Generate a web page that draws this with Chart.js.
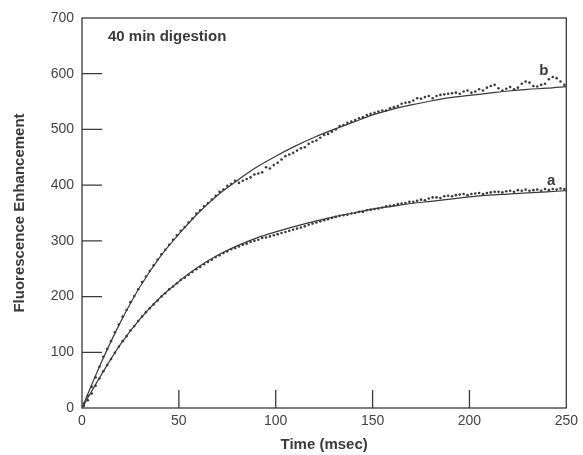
<!DOCTYPE html>
<html>
<head>
<meta charset="utf-8">
<script src="https://cdn.jsdelivr.net/npm/chart.js@4"></script>
<style>
  html, body { margin: 0; padding: 0; background: #fff; }
  #wrap { width: 583px; height: 455px; }
</style>
</head>
<body>
<div id="wrap"><canvas id="chart" width="583" height="455"></canvas></div>
<script>
// time (msec) of the measured points, every 2 ms
const dotTimes = [];
for (let t = 1; t < 250; t += 2) dotTimes.push(t);

const dotsB = [8, 22, 38, 55, 74, 92, 106, 120, 136, 150, 164, 176, 190, 201, 213, 226, 236, 246, 256, 266,
    276, 284, 293, 302, 310, 318, 325, 333, 340, 349, 355, 362, 368, 374, 381, 388, 392, 399, 402, 408,
    404, 408, 411, 414, 419, 421, 423, 432, 430, 436, 440, 446, 452, 455, 458, 462, 466, 468, 474, 478,
    480, 485, 490, 492, 496, 500, 506, 508, 512, 514, 517, 520, 522, 526, 528, 530, 532, 534, 534, 538,
    540, 542, 546, 548, 549, 552, 556, 555, 558, 560, 556, 560, 562, 563, 564, 565, 566, 564, 568, 570,
    566, 568, 572, 570, 575, 578, 580, 574, 570, 573, 576, 572, 575, 582, 586, 584, 578, 577, 580, 582,
    590, 594, 592, 586, 580];

// measured points, curve a
const dotsA = [4, 14, 26, 40, 53, 66, 77, 88, 99, 110, 120, 129, 139, 147, 156, 164, 172, 179, 186, 193,
    200, 206, 213, 218, 224, 230, 234, 239, 244, 249, 253, 258, 262, 266, 271, 274, 278, 281, 285, 287,
    290, 293, 295, 298, 300, 302, 305, 306, 308, 310, 312, 314, 316, 318, 320, 322, 324, 326, 329, 331,
    333, 335, 337, 339, 341, 343, 345, 346, 347, 349, 350, 352, 352, 355, 356, 357, 358, 360, 362, 363,
    364, 366, 367, 368, 370, 370, 372, 374, 373, 376, 378, 378, 377, 380, 381, 380, 382, 383, 384, 382,
    384, 385, 386, 384, 386, 387, 388, 388, 387, 389, 390, 388, 391, 390, 392, 390, 391, 392, 390, 393,
    391, 393, 392, 394, 393];

// fitted curves, every 10 ms
const fitTimes = [0, 10, 20, 30, 40, 50, 60, 70, 80, 90, 100, 110, 120, 130, 140, 150, 160, 170, 180, 190, 200, 210, 220, 230, 240, 250];
const fitB = [0, 82, 155, 218, 270, 312, 350, 382, 408, 432, 452, 470, 486, 500, 513, 526, 536, 544, 551, 557, 561, 565, 569, 572, 574, 577];
const fitA = [0, 60, 115, 160, 197, 227, 253, 274, 291, 305, 316, 326, 335, 343, 350, 357, 362, 367, 371, 375, 379, 382, 384, 386, 388, 390];

const xTicks = [50, 100, 150, 200];
const yTicks = [100, 200, 300, 400, 500, 600];
const curveLabels = [{ text: 'b', x: 236, y: 606 }, { text: 'a', x: 240, y: 408 }];
const panelTitle = '40 min digestion';

const ink = '#3a3a3a';
const fontFamily = '"Liberation Sans", Arial, sans-serif';
const toPoints = (xs, ys) => ys.map((v, i) => ({ x: xs[i], y: v }));

// frame, inward tick marks and text labels
const framePlugin = {
    id: 'frame',
    afterDraw(chart) {
        const { ctx, chartArea: a, scales: { x, y } } = chart;
        ctx.save();
        ctx.strokeStyle = ink;
        ctx.lineWidth = 1.3;
        ctx.strokeRect(a.left, a.top, a.right - a.left, a.bottom - a.top);
        ctx.beginPath();
        xTicks.forEach(v => {
            const px = x.getPixelForValue(v);
            ctx.moveTo(px, a.bottom);
            ctx.lineTo(px, a.bottom - 18);
        });
        yTicks.forEach(v => {
            const py = y.getPixelForValue(v);
            ctx.moveTo(a.left, py);
            ctx.lineTo(a.left + 20, py);
        });
        ctx.stroke();

        ctx.fillStyle = ink;
        ctx.font = 'bold 15px ' + fontFamily;
        ctx.textBaseline = 'middle';
        ctx.fillText(panelTitle, a.left + 26, a.top + 19);
        curveLabels.forEach(l => {
            ctx.fillText(l.text, x.getPixelForValue(l.x), y.getPixelForValue(l.y));
        });
        ctx.restore();
    }
};

const ctx = document.getElementById('chart').getContext('2d');
new Chart(ctx, {
    type: 'scatter',
    data: {
        datasets: [
            { label: 'b', data: toPoints(dotTimes, dotsB), pointRadius: 1.3, backgroundColor: '#3c3c3c', borderWidth: 0 },
            { label: 'a', data: toPoints(dotTimes, dotsA), pointRadius: 1.3, backgroundColor: '#3c3c3c', borderWidth: 0 },
            { label: 'fit b', type: 'line', data: toPoints(fitTimes, fitB), borderColor: ink, borderWidth: 1.2, pointRadius: 0, cubicInterpolationMode: 'monotone', fill: false },
            { label: 'fit a', type: 'line', data: toPoints(fitTimes, fitA), borderColor: ink, borderWidth: 1.2, pointRadius: 0, cubicInterpolationMode: 'monotone', fill: false },
        ],
    },
    options: {
        responsive: false,
        animation: false,
        layout: { padding: { top: 18, right: 10, left: 0, bottom: 0 } },
        plugins: { legend: { display: false }, tooltip: { enabled: false } },
        scales: {
            x: {
                type: 'linear',
                min: 0,
                max: 250,
                afterFit: s => { s.height = 47; },
                grid: { display: false, drawTicks: false },
                border: { display: false },
                ticks: { stepSize: 50, padding: 5, color: '#444', font: { size: 14, family: fontFamily } },
                title: { display: true, text: 'Time (msec)', color: ink, padding: { top: 0, bottom: 1 }, font: { size: 15, weight: 'bold', family: fontFamily } },
            },
            y: {
                min: 0,
                max: 700,
                afterFit: s => { s.width = 82; },
                grid: { display: false, drawTicks: false },
                border: { display: false },
                ticks: { stepSize: 100, padding: 8, color: '#444', font: { size: 14, family: fontFamily } },
                title: { display: true, text: 'Fluorescence Enhancement', color: ink, padding: { top: 11, bottom: 0 }, font: { size: 15, weight: 'bold', family: fontFamily } },
            },
        },
    },
    plugins: [framePlugin],
});
</script>
</body>
</html>
